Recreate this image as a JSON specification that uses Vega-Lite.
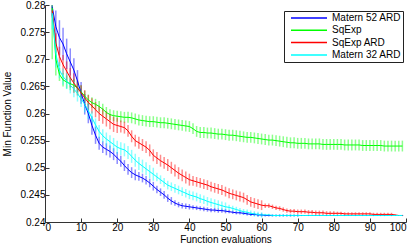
{
  "$schema": "https://vega.github.io/schema/vega-lite/v6.json",
  "width": 361,
  "height": 217,
  "autosize": {"type": "none"},
  "padding": {"left": 45, "top": 5, "right": 9, "bottom": 28},
  "background": "white",
  "config": {
    "font": "Liberation Sans",
    "view": {"stroke": null},
    "axis": {"grid": false, "domainColor": "#333333", "tickColor": "#333333", "labelColor": "#000000", "titleColor": "#000000", "labelFontSize": 10, "titleFontSize": 10, "titleFontWeight": "normal", "tickSize": -4, "domainWidth": 1, "labelOverlap": false}
  },
  "data": {"values": [
    {"x":2,"s":"Matern 52 ARD","v":0.2797,"e":0.002},{"x":3,"s":"Matern 52 ARD","v":0.2760,"e":0.003},{"x":4,"s":"Matern 52 ARD","v":0.2740,"e":0.0032},{"x":5,"s":"Matern 52 ARD","v":0.2728,"e":0.003},{"x":6,"s":"Matern 52 ARD","v":0.2710,"e":0.0028},{"x":7,"s":"Matern 52 ARD","v":0.2695,"e":0.0025},{"x":8,"s":"Matern 52 ARD","v":0.2680,"e":0.0022},{"x":9,"s":"Matern 52 ARD","v":0.2660,"e":0.002},{"x":10,"s":"Matern 52 ARD","v":0.2638,"e":0.002},{"x":11,"s":"Matern 52 ARD","v":0.2617,"e":0.0019},{"x":12,"s":"Matern 52 ARD","v":0.2600,"e":0.0018},{"x":13,"s":"Matern 52 ARD","v":0.2578,"e":0.0017},{"x":14,"s":"Matern 52 ARD","v":0.2560,"e":0.0016},{"x":15,"s":"Matern 52 ARD","v":0.2545,"e":0.0012},{"x":16,"s":"Matern 52 ARD","v":0.2538,"e":0.0011},{"x":17,"s":"Matern 52 ARD","v":0.2534,"e":0.0011},{"x":18,"s":"Matern 52 ARD","v":0.2530,"e":0.0011},{"x":19,"s":"Matern 52 ARD","v":0.2525,"e":0.0011},{"x":20,"s":"Matern 52 ARD","v":0.2518,"e":0.0011},{"x":21,"s":"Matern 52 ARD","v":0.2512,"e":0.001},{"x":22,"s":"Matern 52 ARD","v":0.2504,"e":0.001},{"x":23,"s":"Matern 52 ARD","v":0.2497,"e":0.001},{"x":24,"s":"Matern 52 ARD","v":0.2491,"e":0.001},{"x":25,"s":"Matern 52 ARD","v":0.2487,"e":0.001},{"x":26,"s":"Matern 52 ARD","v":0.2484,"e":0.0008},{"x":27,"s":"Matern 52 ARD","v":0.2481,"e":0.0008},{"x":28,"s":"Matern 52 ARD","v":0.2477,"e":0.0008},{"x":29,"s":"Matern 52 ARD","v":0.2472,"e":0.0008},{"x":30,"s":"Matern 52 ARD","v":0.2466,"e":0.0008},{"x":31,"s":"Matern 52 ARD","v":0.2460,"e":0.0007},{"x":32,"s":"Matern 52 ARD","v":0.2455,"e":0.0007},{"x":33,"s":"Matern 52 ARD","v":0.2450,"e":0.0007},{"x":34,"s":"Matern 52 ARD","v":0.2444,"e":0.0007},{"x":35,"s":"Matern 52 ARD","v":0.2439,"e":0.0007},{"x":36,"s":"Matern 52 ARD","v":0.2435,"e":0.0005},{"x":37,"s":"Matern 52 ARD","v":0.2432,"e":0.0005},{"x":38,"s":"Matern 52 ARD","v":0.2430,"e":0.0005},{"x":39,"s":"Matern 52 ARD","v":0.2429,"e":0.0005},{"x":40,"s":"Matern 52 ARD","v":0.2428,"e":0.0005},{"x":41,"s":"Matern 52 ARD","v":0.2427,"e":0.0004},{"x":42,"s":"Matern 52 ARD","v":0.2426,"e":0.0004},{"x":43,"s":"Matern 52 ARD","v":0.2425,"e":0.0004},{"x":44,"s":"Matern 52 ARD","v":0.2424,"e":0.0004},{"x":45,"s":"Matern 52 ARD","v":0.2423,"e":0.0004},{"x":46,"s":"Matern 52 ARD","v":0.2422,"e":0.0004},{"x":47,"s":"Matern 52 ARD","v":0.2422,"e":0.0004},{"x":48,"s":"Matern 52 ARD","v":0.2421,"e":0.0004},{"x":49,"s":"Matern 52 ARD","v":0.2421,"e":0.0004},{"x":50,"s":"Matern 52 ARD","v":0.2420,"e":0.0004},{"x":51,"s":"Matern 52 ARD","v":0.2419,"e":0.0003},{"x":52,"s":"Matern 52 ARD","v":0.2418,"e":0.0003},{"x":53,"s":"Matern 52 ARD","v":0.2417,"e":0.0003},{"x":54,"s":"Matern 52 ARD","v":0.2417,"e":0.0003},{"x":55,"s":"Matern 52 ARD","v":0.2416,"e":0.0003},{"x":56,"s":"Matern 52 ARD","v":0.2415,"e":0.0003},{"x":57,"s":"Matern 52 ARD","v":0.2414,"e":0.0003},{"x":58,"s":"Matern 52 ARD","v":0.2414,"e":0.0003},{"x":59,"s":"Matern 52 ARD","v":0.2413,"e":0.0003},{"x":60,"s":"Matern 52 ARD","v":0.2413,"e":0.0003},{"x":61,"s":"Matern 52 ARD","v":0.2412,"e":0.0002},{"x":62,"s":"Matern 52 ARD","v":0.2412,"e":0.0002},{"x":63,"s":"Matern 52 ARD","v":0.2412,"e":0.0002},{"x":64,"s":"Matern 52 ARD","v":0.2412,"e":0.0002},{"x":65,"s":"Matern 52 ARD","v":0.2412,"e":0.0002},{"x":66,"s":"Matern 52 ARD","v":0.2412,"e":0.0002},{"x":67,"s":"Matern 52 ARD","v":0.2412,"e":0.0002},{"x":68,"s":"Matern 52 ARD","v":0.2412,"e":0.0002},{"x":69,"s":"Matern 52 ARD","v":0.2412,"e":0.0002},{"x":70,"s":"Matern 52 ARD","v":0.2412,"e":0.0002},{"x":71,"s":"Matern 52 ARD","v":0.2412,"e":0.0001},{"x":72,"s":"Matern 52 ARD","v":0.2412,"e":0.0001},{"x":73,"s":"Matern 52 ARD","v":0.2412,"e":0.0001},{"x":74,"s":"Matern 52 ARD","v":0.2412,"e":0.0001},{"x":75,"s":"Matern 52 ARD","v":0.2412,"e":0.0001},{"x":76,"s":"Matern 52 ARD","v":0.2412,"e":0.0001},{"x":77,"s":"Matern 52 ARD","v":0.2412,"e":0.0001},{"x":78,"s":"Matern 52 ARD","v":0.2412,"e":0.0001},{"x":79,"s":"Matern 52 ARD","v":0.2412,"e":0.0001},{"x":80,"s":"Matern 52 ARD","v":0.2412,"e":0.0001},{"x":81,"s":"Matern 52 ARD","v":0.2412,"e":0.0001},{"x":82,"s":"Matern 52 ARD","v":0.2412,"e":0.0001},{"x":83,"s":"Matern 52 ARD","v":0.2412,"e":0.0001},{"x":84,"s":"Matern 52 ARD","v":0.2412,"e":0.0001},{"x":85,"s":"Matern 52 ARD","v":0.2412,"e":0.0001},{"x":86,"s":"Matern 52 ARD","v":0.2412,"e":0.0001},{"x":87,"s":"Matern 52 ARD","v":0.2412,"e":0.0001},{"x":88,"s":"Matern 52 ARD","v":0.2412,"e":0.0001},{"x":89,"s":"Matern 52 ARD","v":0.2412,"e":0.0001},{"x":90,"s":"Matern 52 ARD","v":0.2412,"e":0.0001},{"x":91,"s":"Matern 52 ARD","v":0.2412,"e":0.0001},{"x":92,"s":"Matern 52 ARD","v":0.2412,"e":0.0001},{"x":93,"s":"Matern 52 ARD","v":0.2412,"e":0.0001},{"x":94,"s":"Matern 52 ARD","v":0.2412,"e":0.0001},{"x":95,"s":"Matern 52 ARD","v":0.2412,"e":0.0001},{"x":96,"s":"Matern 52 ARD","v":0.2412,"e":0.0001},{"x":97,"s":"Matern 52 ARD","v":0.2412,"e":0.0001},{"x":98,"s":"Matern 52 ARD","v":0.2412,"e":0.0001},{"x":99,"s":"Matern 52 ARD","v":0.2412,"e":0.0001},

    {"x":2,"s":"SqExp","v":0.2795,"e":0.0095},{"x":3,"s":"SqExp","v":0.2700,"e":0.003},{"x":4,"s":"SqExp","v":0.2672,"e":0.0012},{"x":5,"s":"SqExp","v":0.2662,"e":0.0012},{"x":6,"s":"SqExp","v":0.2658,"e":0.0012},{"x":7,"s":"SqExp","v":0.2655,"e":0.0012},{"x":8,"s":"SqExp","v":0.2652,"e":0.0012},{"x":9,"s":"SqExp","v":0.2647,"e":0.0012},{"x":10,"s":"SqExp","v":0.2640,"e":0.0012},{"x":11,"s":"SqExp","v":0.2632,"e":0.001},{"x":12,"s":"SqExp","v":0.2625,"e":0.001},{"x":13,"s":"SqExp","v":0.2620,"e":0.001},{"x":14,"s":"SqExp","v":0.2617,"e":0.001},{"x":15,"s":"SqExp","v":0.2613,"e":0.001},{"x":16,"s":"SqExp","v":0.2608,"e":0.001},{"x":17,"s":"SqExp","v":0.2602,"e":0.001},{"x":18,"s":"SqExp","v":0.2598,"e":0.001},{"x":19,"s":"SqExp","v":0.2596,"e":0.001},{"x":20,"s":"SqExp","v":0.2595,"e":0.001},{"x":21,"s":"SqExp","v":0.2594,"e":0.001},{"x":22,"s":"SqExp","v":0.2593,"e":0.001},{"x":23,"s":"SqExp","v":0.2593,"e":0.001},{"x":24,"s":"SqExp","v":0.2592,"e":0.001},{"x":25,"s":"SqExp","v":0.2590,"e":0.001},{"x":26,"s":"SqExp","v":0.2588,"e":0.001},{"x":27,"s":"SqExp","v":0.2587,"e":0.001},{"x":28,"s":"SqExp","v":0.2586,"e":0.001},{"x":29,"s":"SqExp","v":0.2585,"e":0.001},{"x":30,"s":"SqExp","v":0.2585,"e":0.001},{"x":31,"s":"SqExp","v":0.2584,"e":0.001},{"x":32,"s":"SqExp","v":0.2583,"e":0.001},{"x":33,"s":"SqExp","v":0.2583,"e":0.001},{"x":34,"s":"SqExp","v":0.2582,"e":0.001},{"x":35,"s":"SqExp","v":0.2581,"e":0.001},{"x":36,"s":"SqExp","v":0.2580,"e":0.001},{"x":37,"s":"SqExp","v":0.2579,"e":0.001},{"x":38,"s":"SqExp","v":0.2578,"e":0.001},{"x":39,"s":"SqExp","v":0.2577,"e":0.001},{"x":40,"s":"SqExp","v":0.2576,"e":0.001},{"x":41,"s":"SqExp","v":0.2572,"e":0.001},{"x":42,"s":"SqExp","v":0.2567,"e":0.001},{"x":43,"s":"SqExp","v":0.2565,"e":0.001},{"x":44,"s":"SqExp","v":0.2565,"e":0.001},{"x":45,"s":"SqExp","v":0.2564,"e":0.001},{"x":46,"s":"SqExp","v":0.2564,"e":0.001},{"x":47,"s":"SqExp","v":0.2563,"e":0.001},{"x":48,"s":"SqExp","v":0.2562,"e":0.001},{"x":49,"s":"SqExp","v":0.2562,"e":0.001},{"x":50,"s":"SqExp","v":0.2561,"e":0.001},{"x":51,"s":"SqExp","v":0.2560,"e":0.001},{"x":52,"s":"SqExp","v":0.2560,"e":0.001},{"x":53,"s":"SqExp","v":0.2559,"e":0.001},{"x":54,"s":"SqExp","v":0.2558,"e":0.001},{"x":55,"s":"SqExp","v":0.2557,"e":0.001},{"x":56,"s":"SqExp","v":0.2556,"e":0.001},{"x":57,"s":"SqExp","v":0.2556,"e":0.001},{"x":58,"s":"SqExp","v":0.2555,"e":0.001},{"x":59,"s":"SqExp","v":0.2554,"e":0.001},{"x":60,"s":"SqExp","v":0.2553,"e":0.001},{"x":61,"s":"SqExp","v":0.2552,"e":0.001},{"x":62,"s":"SqExp","v":0.2551,"e":0.001},{"x":63,"s":"SqExp","v":0.2551,"e":0.001},{"x":64,"s":"SqExp","v":0.2550,"e":0.001},{"x":65,"s":"SqExp","v":0.2549,"e":0.001},{"x":66,"s":"SqExp","v":0.2548,"e":0.001},{"x":67,"s":"SqExp","v":0.2547,"e":0.001},{"x":68,"s":"SqExp","v":0.2546,"e":0.001},{"x":69,"s":"SqExp","v":0.2546,"e":0.001},{"x":70,"s":"SqExp","v":0.2545,"e":0.001},{"x":71,"s":"SqExp","v":0.2545,"e":0.001},{"x":72,"s":"SqExp","v":0.2545,"e":0.001},{"x":73,"s":"SqExp","v":0.2544,"e":0.001},{"x":74,"s":"SqExp","v":0.2544,"e":0.001},{"x":75,"s":"SqExp","v":0.2544,"e":0.001},{"x":76,"s":"SqExp","v":0.2544,"e":0.001},{"x":77,"s":"SqExp","v":0.2543,"e":0.001},{"x":78,"s":"SqExp","v":0.2543,"e":0.001},{"x":79,"s":"SqExp","v":0.2543,"e":0.001},{"x":80,"s":"SqExp","v":0.2543,"e":0.001},{"x":81,"s":"SqExp","v":0.2543,"e":0.001},{"x":82,"s":"SqExp","v":0.2543,"e":0.001},{"x":83,"s":"SqExp","v":0.2542,"e":0.001},{"x":84,"s":"SqExp","v":0.2542,"e":0.001},{"x":85,"s":"SqExp","v":0.2542,"e":0.001},{"x":86,"s":"SqExp","v":0.2542,"e":0.001},{"x":87,"s":"SqExp","v":0.2542,"e":0.001},{"x":88,"s":"SqExp","v":0.2541,"e":0.001},{"x":89,"s":"SqExp","v":0.2541,"e":0.001},{"x":90,"s":"SqExp","v":0.2541,"e":0.001},{"x":91,"s":"SqExp","v":0.2541,"e":0.001},{"x":92,"s":"SqExp","v":0.2541,"e":0.001},{"x":93,"s":"SqExp","v":0.2541,"e":0.001},{"x":94,"s":"SqExp","v":0.2540,"e":0.001},{"x":95,"s":"SqExp","v":0.2540,"e":0.001},{"x":96,"s":"SqExp","v":0.2540,"e":0.001},{"x":97,"s":"SqExp","v":0.2540,"e":0.001},{"x":98,"s":"SqExp","v":0.2540,"e":0.001},{"x":99,"s":"SqExp","v":0.2540,"e":0.001},

    {"x":2,"s":"SqExp ARD","v":0.2790,"e":0.001},{"x":3,"s":"SqExp ARD","v":0.2730,"e":0.0018},{"x":4,"s":"SqExp ARD","v":0.2705,"e":0.0018},{"x":5,"s":"SqExp ARD","v":0.2690,"e":0.0018},{"x":6,"s":"SqExp ARD","v":0.2678,"e":0.0018},{"x":7,"s":"SqExp ARD","v":0.2666,"e":0.0018},{"x":8,"s":"SqExp ARD","v":0.2656,"e":0.0018},{"x":9,"s":"SqExp ARD","v":0.2647,"e":0.0014},{"x":10,"s":"SqExp ARD","v":0.2638,"e":0.0014},{"x":11,"s":"SqExp ARD","v":0.2629,"e":0.0014},{"x":12,"s":"SqExp ARD","v":0.2620,"e":0.0014},{"x":13,"s":"SqExp ARD","v":0.2614,"e":0.0014},{"x":14,"s":"SqExp ARD","v":0.2607,"e":0.0014},{"x":15,"s":"SqExp ARD","v":0.2600,"e":0.0014},{"x":16,"s":"SqExp ARD","v":0.2595,"e":0.0014},{"x":17,"s":"SqExp ARD","v":0.2590,"e":0.0014},{"x":18,"s":"SqExp ARD","v":0.2585,"e":0.0014},{"x":19,"s":"SqExp ARD","v":0.2580,"e":0.0014},{"x":20,"s":"SqExp ARD","v":0.2578,"e":0.0014},{"x":21,"s":"SqExp ARD","v":0.2576,"e":0.0011},{"x":22,"s":"SqExp ARD","v":0.2574,"e":0.0011},{"x":23,"s":"SqExp ARD","v":0.2568,"e":0.0011},{"x":24,"s":"SqExp ARD","v":0.2558,"e":0.0011},{"x":25,"s":"SqExp ARD","v":0.2550,"e":0.0011},{"x":26,"s":"SqExp ARD","v":0.2546,"e":0.0011},{"x":27,"s":"SqExp ARD","v":0.2542,"e":0.0011},{"x":28,"s":"SqExp ARD","v":0.2538,"e":0.0011},{"x":29,"s":"SqExp ARD","v":0.2532,"e":0.0011},{"x":30,"s":"SqExp ARD","v":0.2523,"e":0.0011},{"x":31,"s":"SqExp ARD","v":0.2518,"e":0.0011},{"x":32,"s":"SqExp ARD","v":0.2513,"e":0.0011},{"x":33,"s":"SqExp ARD","v":0.2509,"e":0.0011},{"x":34,"s":"SqExp ARD","v":0.2505,"e":0.0011},{"x":35,"s":"SqExp ARD","v":0.2500,"e":0.0011},{"x":36,"s":"SqExp ARD","v":0.2495,"e":0.0011},{"x":37,"s":"SqExp ARD","v":0.2490,"e":0.0011},{"x":38,"s":"SqExp ARD","v":0.2486,"e":0.0011},{"x":39,"s":"SqExp ARD","v":0.2482,"e":0.0011},{"x":40,"s":"SqExp ARD","v":0.2478,"e":0.0011},{"x":41,"s":"SqExp ARD","v":0.2476,"e":0.0009},{"x":42,"s":"SqExp ARD","v":0.2474,"e":0.0009},{"x":43,"s":"SqExp ARD","v":0.2472,"e":0.0009},{"x":44,"s":"SqExp ARD","v":0.2470,"e":0.0009},{"x":45,"s":"SqExp ARD","v":0.2468,"e":0.0009},{"x":46,"s":"SqExp ARD","v":0.2465,"e":0.0009},{"x":47,"s":"SqExp ARD","v":0.2463,"e":0.0009},{"x":48,"s":"SqExp ARD","v":0.2461,"e":0.0009},{"x":49,"s":"SqExp ARD","v":0.2459,"e":0.0009},{"x":50,"s":"SqExp ARD","v":0.2456,"e":0.0009},{"x":51,"s":"SqExp ARD","v":0.2453,"e":0.0009},{"x":52,"s":"SqExp ARD","v":0.2451,"e":0.0009},{"x":53,"s":"SqExp ARD","v":0.2449,"e":0.0009},{"x":54,"s":"SqExp ARD","v":0.2447,"e":0.0009},{"x":55,"s":"SqExp ARD","v":0.2445,"e":0.0009},{"x":56,"s":"SqExp ARD","v":0.2441,"e":0.0009},{"x":57,"s":"SqExp ARD","v":0.2437,"e":0.0009},{"x":58,"s":"SqExp ARD","v":0.2435,"e":0.0009},{"x":59,"s":"SqExp ARD","v":0.2433,"e":0.0009},{"x":60,"s":"SqExp ARD","v":0.2431,"e":0.0009},{"x":61,"s":"SqExp ARD","v":0.2430,"e":0.0004},{"x":62,"s":"SqExp ARD","v":0.2430,"e":0.0004},{"x":63,"s":"SqExp ARD","v":0.2428,"e":0.0004},{"x":64,"s":"SqExp ARD","v":0.2426,"e":0.0004},{"x":65,"s":"SqExp ARD","v":0.2425,"e":0.0004},{"x":66,"s":"SqExp ARD","v":0.2423,"e":0.0004},{"x":67,"s":"SqExp ARD","v":0.2421,"e":0.0004},{"x":68,"s":"SqExp ARD","v":0.2420,"e":0.0004},{"x":69,"s":"SqExp ARD","v":0.2420,"e":0.0004},{"x":70,"s":"SqExp ARD","v":0.2419,"e":0.0004},{"x":71,"s":"SqExp ARD","v":0.2419,"e":0.0004},{"x":72,"s":"SqExp ARD","v":0.2419,"e":0.0004},{"x":73,"s":"SqExp ARD","v":0.2418,"e":0.0004},{"x":74,"s":"SqExp ARD","v":0.2418,"e":0.0004},{"x":75,"s":"SqExp ARD","v":0.2417,"e":0.0004},{"x":76,"s":"SqExp ARD","v":0.2417,"e":0.0004},{"x":77,"s":"SqExp ARD","v":0.2417,"e":0.0004},{"x":78,"s":"SqExp ARD","v":0.2416,"e":0.0004},{"x":79,"s":"SqExp ARD","v":0.2416,"e":0.0004},{"x":80,"s":"SqExp ARD","v":0.2416,"e":0.0004},{"x":81,"s":"SqExp ARD","v":0.2416,"e":0.0003},{"x":82,"s":"SqExp ARD","v":0.2416,"e":0.0003},{"x":83,"s":"SqExp ARD","v":0.2415,"e":0.0003},{"x":84,"s":"SqExp ARD","v":0.2415,"e":0.0003},{"x":85,"s":"SqExp ARD","v":0.2415,"e":0.0003},{"x":86,"s":"SqExp ARD","v":0.2415,"e":0.0003},{"x":87,"s":"SqExp ARD","v":0.2415,"e":0.0003},{"x":88,"s":"SqExp ARD","v":0.2415,"e":0.0003},{"x":89,"s":"SqExp ARD","v":0.2415,"e":0.0003},{"x":90,"s":"SqExp ARD","v":0.2415,"e":0.0003},{"x":91,"s":"SqExp ARD","v":0.2414,"e":0.0003},{"x":92,"s":"SqExp ARD","v":0.2414,"e":0.0003},{"x":93,"s":"SqExp ARD","v":0.2414,"e":0.0003},{"x":94,"s":"SqExp ARD","v":0.2414,"e":0.0003},{"x":95,"s":"SqExp ARD","v":0.2414,"e":0.0003},{"x":96,"s":"SqExp ARD","v":0.2414,"e":0.0003},{"x":97,"s":"SqExp ARD","v":0.2413,"e":0.0001},{"x":98,"s":"SqExp ARD","v":0.2412,"e":0.0001},{"x":99,"s":"SqExp ARD","v":0.2412,"e":0.0001},

    {"x":2,"s":"Matern 32 ARD","v":0.2785,"e":0.003},{"x":3,"s":"Matern 32 ARD","v":0.2710,"e":0.0025},{"x":4,"s":"Matern 32 ARD","v":0.2680,"e":0.0015},{"x":5,"s":"Matern 32 ARD","v":0.2668,"e":0.0015},{"x":6,"s":"Matern 32 ARD","v":0.2660,"e":0.0015},{"x":7,"s":"Matern 32 ARD","v":0.2652,"e":0.0015},{"x":8,"s":"Matern 32 ARD","v":0.2645,"e":0.0015},{"x":9,"s":"Matern 32 ARD","v":0.2637,"e":0.0015},{"x":10,"s":"Matern 32 ARD","v":0.2627,"e":0.0015},{"x":11,"s":"Matern 32 ARD","v":0.2617,"e":0.0015},{"x":12,"s":"Matern 32 ARD","v":0.2605,"e":0.0015},{"x":13,"s":"Matern 32 ARD","v":0.2592,"e":0.0012},{"x":14,"s":"Matern 32 ARD","v":0.2579,"e":0.0012},{"x":15,"s":"Matern 32 ARD","v":0.2567,"e":0.0012},{"x":16,"s":"Matern 32 ARD","v":0.2559,"e":0.0012},{"x":17,"s":"Matern 32 ARD","v":0.2553,"e":0.0012},{"x":18,"s":"Matern 32 ARD","v":0.2548,"e":0.0012},{"x":19,"s":"Matern 32 ARD","v":0.2543,"e":0.0012},{"x":20,"s":"Matern 32 ARD","v":0.2538,"e":0.0012},{"x":21,"s":"Matern 32 ARD","v":0.2535,"e":0.0012},{"x":22,"s":"Matern 32 ARD","v":0.2533,"e":0.0012},{"x":23,"s":"Matern 32 ARD","v":0.2528,"e":0.0012},{"x":24,"s":"Matern 32 ARD","v":0.2521,"e":0.0012},{"x":25,"s":"Matern 32 ARD","v":0.2514,"e":0.0012},{"x":26,"s":"Matern 32 ARD","v":0.2508,"e":0.0012},{"x":27,"s":"Matern 32 ARD","v":0.2503,"e":0.0012},{"x":28,"s":"Matern 32 ARD","v":0.2498,"e":0.0012},{"x":29,"s":"Matern 32 ARD","v":0.2493,"e":0.0012},{"x":30,"s":"Matern 32 ARD","v":0.2488,"e":0.0012},{"x":31,"s":"Matern 32 ARD","v":0.2483,"e":0.0008},{"x":32,"s":"Matern 32 ARD","v":0.2478,"e":0.0008},{"x":33,"s":"Matern 32 ARD","v":0.2473,"e":0.0008},{"x":34,"s":"Matern 32 ARD","v":0.2468,"e":0.0008},{"x":35,"s":"Matern 32 ARD","v":0.2465,"e":0.0008},{"x":36,"s":"Matern 32 ARD","v":0.2462,"e":0.0008},{"x":37,"s":"Matern 32 ARD","v":0.2459,"e":0.0008},{"x":38,"s":"Matern 32 ARD","v":0.2456,"e":0.0008},{"x":39,"s":"Matern 32 ARD","v":0.2453,"e":0.0008},{"x":40,"s":"Matern 32 ARD","v":0.2450,"e":0.0008},{"x":41,"s":"Matern 32 ARD","v":0.2448,"e":0.0008},{"x":42,"s":"Matern 32 ARD","v":0.2446,"e":0.0008},{"x":43,"s":"Matern 32 ARD","v":0.2443,"e":0.0008},{"x":44,"s":"Matern 32 ARD","v":0.2441,"e":0.0008},{"x":45,"s":"Matern 32 ARD","v":0.2438,"e":0.0008},{"x":46,"s":"Matern 32 ARD","v":0.2436,"e":0.0008},{"x":47,"s":"Matern 32 ARD","v":0.2434,"e":0.0008},{"x":48,"s":"Matern 32 ARD","v":0.2432,"e":0.0008},{"x":49,"s":"Matern 32 ARD","v":0.2430,"e":0.0008},{"x":50,"s":"Matern 32 ARD","v":0.2428,"e":0.0008},{"x":51,"s":"Matern 32 ARD","v":0.2427,"e":0.0005},{"x":52,"s":"Matern 32 ARD","v":0.2425,"e":0.0005},{"x":53,"s":"Matern 32 ARD","v":0.2423,"e":0.0005},{"x":54,"s":"Matern 32 ARD","v":0.2421,"e":0.0005},{"x":55,"s":"Matern 32 ARD","v":0.2419,"e":0.0005},{"x":56,"s":"Matern 32 ARD","v":0.2418,"e":0.0005},{"x":57,"s":"Matern 32 ARD","v":0.2416,"e":0.0005},{"x":58,"s":"Matern 32 ARD","v":0.2415,"e":0.0005},{"x":59,"s":"Matern 32 ARD","v":0.2414,"e":0.0005},{"x":60,"s":"Matern 32 ARD","v":0.2413,"e":0.0005},{"x":61,"s":"Matern 32 ARD","v":0.2413,"e":0.0002},{"x":62,"s":"Matern 32 ARD","v":0.2413,"e":0.0002},{"x":63,"s":"Matern 32 ARD","v":0.2412,"e":0.0002},{"x":64,"s":"Matern 32 ARD","v":0.2412,"e":0.0002},{"x":65,"s":"Matern 32 ARD","v":0.2412,"e":0.0002},{"x":66,"s":"Matern 32 ARD","v":0.2412,"e":0.0002},{"x":67,"s":"Matern 32 ARD","v":0.2412,"e":0.0002},{"x":68,"s":"Matern 32 ARD","v":0.2412,"e":0.0002},{"x":69,"s":"Matern 32 ARD","v":0.2412,"e":0.0002},{"x":70,"s":"Matern 32 ARD","v":0.2412,"e":0.0002},{"x":71,"s":"Matern 32 ARD","v":0.2412,"e":0.0001},{"x":72,"s":"Matern 32 ARD","v":0.2412,"e":0.0001},{"x":73,"s":"Matern 32 ARD","v":0.2412,"e":0.0001},{"x":74,"s":"Matern 32 ARD","v":0.2412,"e":0.0001},{"x":75,"s":"Matern 32 ARD","v":0.2412,"e":0.0001},{"x":76,"s":"Matern 32 ARD","v":0.2412,"e":0.0001},{"x":77,"s":"Matern 32 ARD","v":0.2412,"e":0.0001},{"x":78,"s":"Matern 32 ARD","v":0.2412,"e":0.0001},{"x":79,"s":"Matern 32 ARD","v":0.2412,"e":0.0001},{"x":80,"s":"Matern 32 ARD","v":0.2412,"e":0.0001},{"x":81,"s":"Matern 32 ARD","v":0.2412,"e":0.0001},{"x":82,"s":"Matern 32 ARD","v":0.2412,"e":0.0001},{"x":83,"s":"Matern 32 ARD","v":0.2412,"e":0.0001},{"x":84,"s":"Matern 32 ARD","v":0.2412,"e":0.0001},{"x":85,"s":"Matern 32 ARD","v":0.2412,"e":0.0001},{"x":86,"s":"Matern 32 ARD","v":0.2412,"e":0.0001},{"x":87,"s":"Matern 32 ARD","v":0.2412,"e":0.0001},{"x":88,"s":"Matern 32 ARD","v":0.2412,"e":0.0001},{"x":89,"s":"Matern 32 ARD","v":0.2412,"e":0.0001},{"x":90,"s":"Matern 32 ARD","v":0.2412,"e":0.0001},{"x":91,"s":"Matern 32 ARD","v":0.2412,"e":0.0001},{"x":92,"s":"Matern 32 ARD","v":0.2412,"e":0.0001},{"x":93,"s":"Matern 32 ARD","v":0.2412,"e":0.0001},{"x":94,"s":"Matern 32 ARD","v":0.2412,"e":0.0001},{"x":95,"s":"Matern 32 ARD","v":0.2412,"e":0.0001},{"x":96,"s":"Matern 32 ARD","v":0.2412,"e":0.0001},{"x":97,"s":"Matern 32 ARD","v":0.2412,"e":0.0001},{"x":98,"s":"Matern 32 ARD","v":0.2412,"e":0.0001},{"x":99,"s":"Matern 32 ARD","v":0.2412,"e":0.0001}
  ]},
  "encoding": {
    "x": {"field": "x", "type": "quantitative", "scale": {"domain": [0, 100], "nice": false}, "axis": {"title": "Function evaluations", "values": [0,10,20,30,40,50,60,70,80,90,100], "labelPadding": 4, "titlePadding": 2}},
    "y": {"field": "v", "type": "quantitative", "scale": {"domain": [0.24, 0.28], "nice": false, "zero": false, "clamp": true}, "axis": {"title": "Min Function Value", "values": [0.24,0.245,0.25,0.255,0.26,0.265,0.27,0.275,0.28], "format": ".3~f", "labelPadding": 4, "titlePadding": 7}},
    "color": {"field": "s", "type": "nominal", "scale": {"domain": ["Matern 52 ARD", "SqExp", "SqExp ARD", "Matern 32 ARD"], "range": ["#0000ff", "#00ff00", "#ff0000", "#00ffff"]},
      "legend": {"title": null, "orient": "none", "legendX": 239, "legendY": 6, "symbolType": "stroke", "symbolSize": 1296, "symbolStrokeWidth": 1.5, "clipHeight": 10, "rowPadding": 2.3, "padding": 2, "symbolOffset": 4, "labelOffset": 4, "labelFontSize": 10, "labelColor": "#000000", "strokeColor": "#222222", "fillColor": "white", "symbolOpacity": 1}}
  },
  "layer": [
    {
      "mark": {"type": "errorbar", "thickness": 1.5, "opacity": 0.45},
      "encoding": {
        "yError": {"field": "e"}
      }
    },
    {
      "mark": {"type": "line", "strokeWidth": 1, "clip": true},
      "encoding": {}
    }
  ]
}
